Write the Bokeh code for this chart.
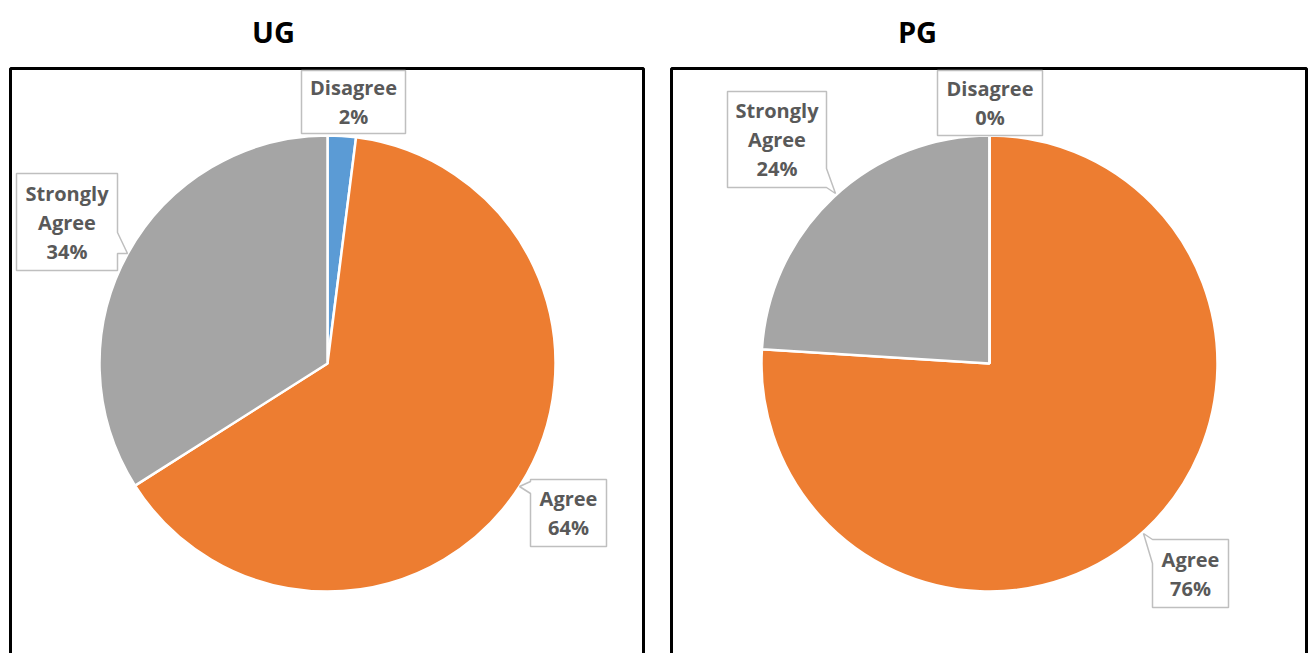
import math
from bokeh.plotting import figure
from bokeh.models import Range1d, ColumnDataSource
from bokeh.core.properties import value
from bokeh.embed import file_html
from bokeh.resources import INLINE

# ---- data ----
groups = ["UG", "PG"]
categories = ["Disagree", "Agree", "Strongly Agree"]
ug_values = [2, 64, 34]
pg_values = [0, 76, 24]
colors = ["#5B9BD5", "#ED7D31", "#A5A5A5"]

# ---- layout (screen pixel coordinates of the reference) ----
W, H = 1311, 653


def X(sx):
    return sx


def Y(sy):
    return H - sy


panels = [
    dict(values=ug_values, title_x=273, frame=(10, 643, 68), center=(327, 363), r=228,
         boxes=[(301, 405, 70, 133, None),
                (530, 606, 479, 546, ("left", 481, 493, (519, 486))),
                (16, 117, 173, 270, ("right", 232, 253, (127, 253)))]),
    dict(values=pg_values, title_x=917, frame=(671, 1306, 68), center=(989, 363), r=228,
         boxes=[(937, 1042, 70, 135, None),
                (1152, 1228, 539, 607, ("left", 539, 563, (1143, 533))),
                (727, 826, 91, 187, ("right", 168, 187, (835, 193)))]),
]

p = figure(width=W, height=H, output_backend="svg", toolbar_location=None,
           x_range=Range1d(0, W), y_range=Range1d(0, H), min_border=0,
           x_axis_location=None, y_axis_location=None)
p.grid.visible = False
p.outline_line_color = None
p.background_fill_color = "white"
p.border_fill_color = "white"

FONT = value("Open Sans")
LABEL_COLOR = "#595959"

for g, panel in zip(groups, panels):
    vals = panel["values"]
    total = sum(vals)
    # title
    p.text(x=[X(panel["title_x"])], y=[Y(31)], text=[g], text_font=FONT,
           text_font_size="29px", text_font_style="bold", text_color="black",
           text_align="center", text_baseline="middle")
    # frame (bottom edge runs off the page)
    fl, fr, ft = panel["frame"]
    p.quad(left=[X(fl)], right=[X(fr)], top=[Y(ft)], bottom=[-30],
           fill_color=None, line_color="black", line_width=3)
    # pie: clockwise from 12 o'clock
    cx, cy = panel["center"]
    cum = 0.0
    starts, ends = [], []
    for v in vals:
        t1 = cum / total * 2 * math.pi
        cum += v
        t2 = cum / total * 2 * math.pi
        starts.append(math.pi / 2 - t2)
        ends.append(math.pi / 2 - t1)
    nz = [i for i, v in enumerate(vals) if v > 0]
    src = ColumnDataSource(dict(x=[X(cx)] * len(nz), y=[Y(cy)] * len(nz),
                                s=[starts[i] for i in nz], e=[ends[i] for i in nz],
                                c=[colors[i] for i in nz]))
    p.wedge(x="x", y="y", radius=panel["r"], radius_units="screen",
            start_angle="s", end_angle="e", fill_color="c",
            line_color="white", line_width=2.5, source=src)
    # zero-width slice still draws a white boundary at 12 o'clock
    if any(v == 0 for v in vals):
        p.segment(x0=[X(cx)], y0=[Y(cy)], x1=[X(cx)], y1=[Y(cy) + panel["r"]],
                  line_color="white", line_width=2.5)
    # callout labels
    for cat, v, box in zip(categories, vals, panel["boxes"]):
        l, r, t, b, tail = box
        pts = [(l, t), (r, t)]
        if tail and tail[0] == "right":
            _, a1, a2, tip = tail
            pts += [(r, a1), tip, (r, a2)]
        pts += [(r, b), (l, b)]
        if tail and tail[0] == "left":
            _, a1, a2, tip = tail
            pts += [(l, a2), tip, (l, a1)]
        p.patch(x=[X(px) for px, _ in pts], y=[Y(py) for _, py in pts],
                fill_color="white", line_color="#BFBFBF", line_width=1.5)
        lines = cat.split(" ") + [f"{v}%"]
        lh = 29
        mid = (t + b) / 2
        y0 = mid - lh * (len(lines) - 1) / 2
        p.text(x=[X((l + r) / 2)] * len(lines),
               y=[Y(y0 + i * lh) for i in range(len(lines))],
               text=lines, text_font=FONT, text_font_size="20px",
               text_font_style="bold", text_color=LABEL_COLOR,
               text_align="center", text_baseline="middle")

open("out.html", "w").write(file_html(p, INLINE))
